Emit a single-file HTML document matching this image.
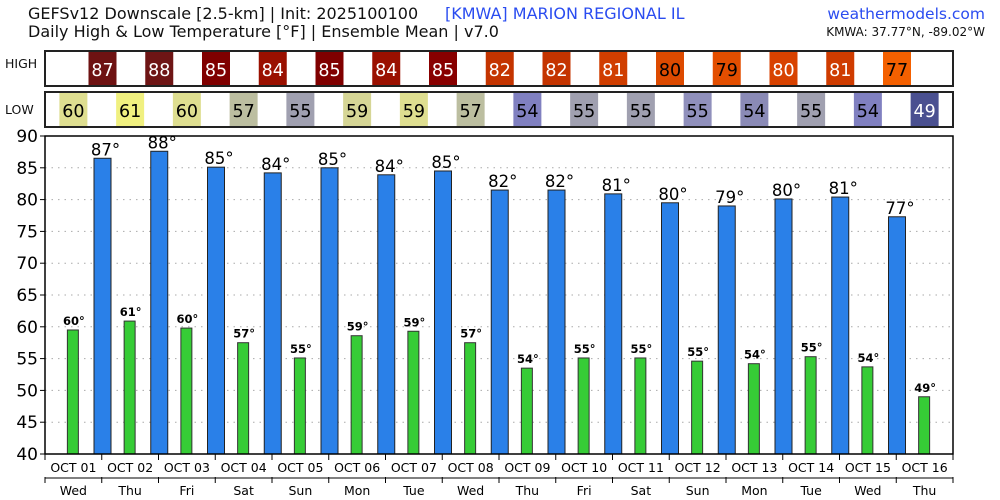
<!DOCTYPE html>
<html><head><meta charset="utf-8"><style>html,body{margin:0;padding:0;background:#fff}svg{display:block}</style></head>
<body>
<svg id="s" width="1000" height="500" xmlns="http://www.w3.org/2000/svg" font-family="DejaVu Sans, Liberation Sans, sans-serif">
<text x="28" y="19" font-size="16" fill="#111">GEFSv12 Downscale [2.5-km] | Init: 2025100100</text>
<text x="28" y="37" font-size="16" fill="#111">Daily High &amp; Low Temperature [°F] | Ensemble Mean | v7.0</text>
<text x="445" y="19" font-size="16" fill="#2a4cf0">[KMWA]  MARION REGIONAL IL</text>
<text x="985" y="19" font-size="15.5" fill="#2a4cf0" text-anchor="end">weathermodels.com</text>
<text x="985" y="36" font-size="12" fill="#111" text-anchor="end">KMWA: 37.77°N, -89.02°W</text>
<text x="5" y="68" font-size="12.5" fill="#111">HIGH</text>
<text x="5" y="114" font-size="12.5" fill="#111">LOW</text>
<g id="g"></g>
</svg>
<script>
const g=document.getElementById('g');let h='';
const X0=45,X1=953,Y90=136,Y40=454,D=56.75;
const y=v=>Y40-(v-40)*(Y40-Y90)/50;
const highs=[86.5,87.6,85.1,84.2,85.0,83.9,84.5,81.5,81.5,80.9,79.5,79.0,80.1,80.4,77.3];
const hl=[87,88,85,84,85,84,85,82,82,81,80,79,80,81,77];
const hc=['#6e1212','#6e1515','#800000','#9a1000','#800000','#9a1000','#880000','#c43400','#c43400','#d03e00','#dd4a00','#e34e00','#d84200','#cf3c00','#f46000'];
const ht=['#fff','#fff','#fff','#fff','#fff','#fff','#fff','#fff','#fff','#fff','#000','#000','#fff','#fff','#000'];
const lows=[59.5,60.9,59.8,57.5,55.1,58.6,59.3,57.5,53.5,55.1,55.1,54.6,54.2,55.3,53.7,49.0];
const ll=[60,61,60,57,55,59,59,57,54,55,55,55,54,55,54,49];
const lc=['#dede90','#f0f080','#dede90','#bcbea0','#a0a0b0','#d6d696','#dede90','#bcbea0','#8080c0','#a0a0b0','#a0a0b0','#9090bc','#8a8ab6','#a0a0b0','#8080c0','#4a5090'];
const lt=lc.map((c,i)=>i==15?'#fff':'#000');
const days=['Wed','Thu','Fri','Sat','Sun','Mon','Tue','Wed','Thu','Fri','Sat','Sun','Mon','Tue','Wed','Thu'];
h+=`<rect x="45" y="51" width="908" height="35" fill="#fff" stroke="#222" stroke-width="2"/>`;
h+=`<rect x="45" y="92" width="908" height="35" fill="#fff" stroke="#222" stroke-width="2"/>`;
highs.forEach((v,i)=>{const c=102.5+D*i;h+=`<rect x="${c-14}" y="52" width="28" height="33" fill="${hc[i]}"/><text x="${c}" y="76" font-size="17.5" fill="${ht[i]}" text-anchor="middle">${hl[i]}</text>`;});
lows.forEach((v,i)=>{const c=X0+D*(i+0.5);h+=`<rect x="${c-14}" y="93" width="28" height="33" fill="${lc[i]}"/><text x="${c}" y="117" font-size="17.5" fill="${lt[i]}" text-anchor="middle">${ll[i]}</text>`;});
for(let v=45;v<90;v+=5){h+=`<line x1="${X0}" x2="${X1}" y1="${y(v)}" y2="${y(v)}" stroke="#aaa" stroke-dasharray="1.5,5"/>`;}
for(let v=40;v<=90;v+=5){h+=`<line x1="${X0-5}" x2="${X0}" y1="${y(v)}" y2="${y(v)}" stroke="#000"/><text x="${X0-7}" y="${y(v)+6}" font-size="17" text-anchor="end" fill="#000">${v}</text>`;}
highs.forEach((v,i)=>{const c=102.5+D*i;h+=`<rect x="${c-8.5}" y="${y(v)}" width="17" height="${Y40-y(v)}" fill="#2a80e8" stroke="#222" stroke-width="1"/><text x="${c+3}" y="${y(v)-3}" font-size="16.5" text-anchor="middle" fill="#000">${hl[i]}°</text>`;});
lows.forEach((v,i)=>{const c=X0+D*(i+0.5)-0.5;h+=`<rect x="${c-5.5}" y="${y(v)}" width="11" height="${Y40-y(v)}" fill="#36cc36" stroke="#333" stroke-width="1"/><text x="${c+1}" y="${y(v)-5}" font-size="11.5" font-weight="bold" text-anchor="middle" fill="#000">${ll[i]}°</text>`;});
h+=`<rect x="${X0}" y="${Y90}" width="${X1-X0}" height="${Y40-Y90}" fill="none" stroke="#000" stroke-width="1.5"/>`;
for(let i=0;i<=16;i++){const x=X0+D*i;h+=`<line x1="${x}" x2="${x}" y1="454" y2="460" stroke="#000"/><line x1="${x}" x2="${x}" y1="477" y2="483" stroke="#000"/>`;}
h+=`<line x1="45" x2="953" y1="478" y2="478" stroke="#000"/>`;
for(let i=0;i<16;i++){const x=X0+D*(i+0.5);h+=`<text x="${x}" y="472" font-size="12.5" text-anchor="middle">OCT ${String(i+1).padStart(2,'0')}</text><text x="${x}" y="495" font-size="12.5" text-anchor="middle">${days[i]}</text>`;}
g.innerHTML=h;
</script>
</body></html>
